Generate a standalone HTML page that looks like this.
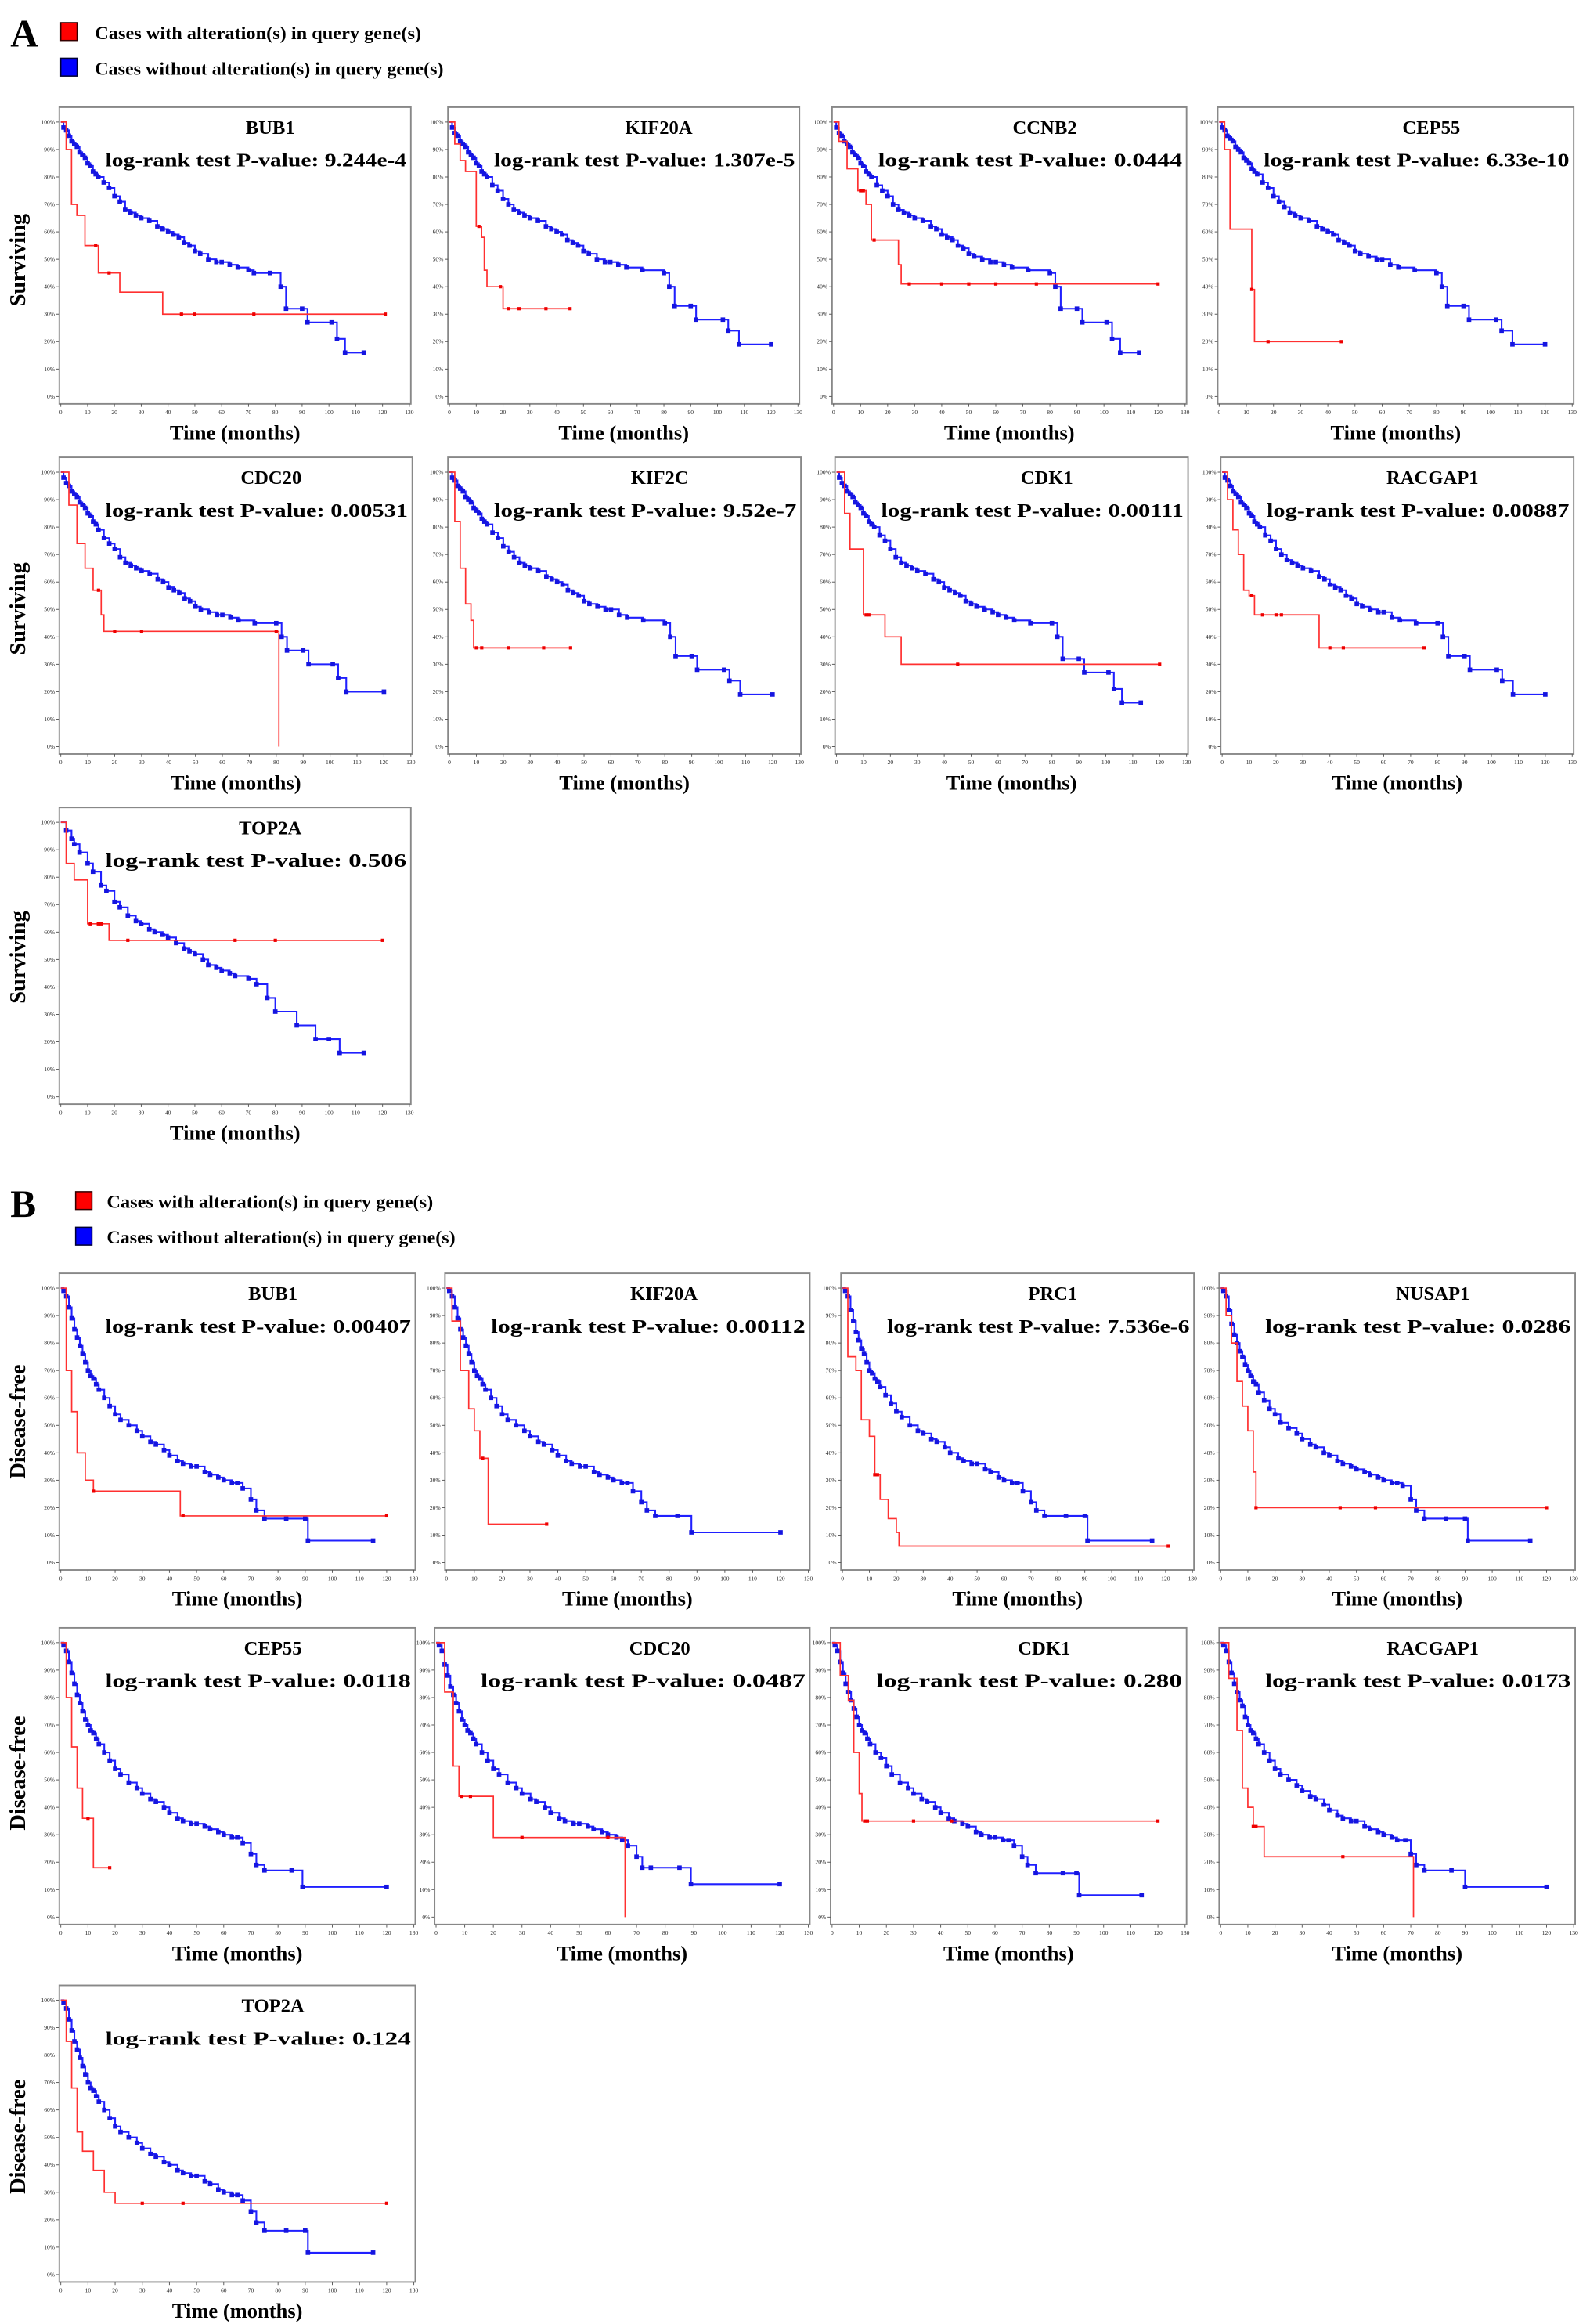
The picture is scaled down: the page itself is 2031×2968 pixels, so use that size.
<!DOCTYPE html>
<html><head><meta charset="utf-8">
<style>
html,body{margin:0;padding:0;background:#fff;}
svg{display:block;}
text{font-family:"Liberation Serif",serif;}
</style></head>
<body>
<svg id="fig" width="2031" height="2968" viewBox="0 0 1072 1566" xmlns="http://www.w3.org/2000/svg">
<g>
<text x="7" y="31" font-size="26" font-weight="bold">A</text>
<rect x="41" y="15" width="11" height="12" fill="#f00" stroke="#300" stroke-width="0.8"/>
<text x="64" y="26" font-size="12" font-weight="bold" textLength="220" lengthAdjust="spacingAndGlyphs">Cases with alteration(s) in query gene(s)</text>
<rect x="41" y="39" width="11" height="12" fill="#00f" stroke="#003" stroke-width="0.8"/>
<text x="64" y="50" font-size="12" font-weight="bold" textLength="235" lengthAdjust="spacingAndGlyphs">Cases without alteration(s) in query gene(s)</text>
</g>
<g>
<text x="7" y="820" font-size="26" font-weight="bold">B</text>
<rect x="51" y="803" width="11" height="12" fill="#f00" stroke="#300" stroke-width="0.8"/>
<text x="72" y="814" font-size="12" font-weight="bold" textLength="220" lengthAdjust="spacingAndGlyphs">Cases with alteration(s) in query gene(s)</text>
<rect x="51" y="827" width="11" height="12" fill="#00f" stroke="#003" stroke-width="0.8"/>
<text x="72" y="838" font-size="12" font-weight="bold" textLength="235" lengthAdjust="spacingAndGlyphs">Cases without alteration(s) in query gene(s)</text>
</g>
</svg>
<script>
// ---- data ----
const geneNames = ["BUB1","KIF20A","CCNB2","CEP55","CDC20","KIF2C","CDK1","RACGAP1","TOP2A",
                   "BUB1","KIF20A","PRC1","NUSAP1","CEP55","CDC20","CDK1","RACGAP1","TOP2A"];
const pValues = ["9.244e-4","1.307e-5","0.0444","6.33e-10","0.00531","9.52e-7","0.00111","0.00887","0.506",
                 "0.00407","0.00112","7.536e-6","0.0286","0.0118","0.0487","0.280","0.0173","0.124"];
const yTickLabels = ["0%","10%","20%","30%","40%","50%","60%","70%","80%","90%","100%"];
const xTickLabels = [0,10,20,30,40,50,60,70,80,90,100,110,120,130];

// red (altered) curves: [time, survival%]
const redA1 = [[0,100],[2,90],[4,70],[6,66],[9,55],[14,45],[22,38],[38,30],[121,30]];
const redA2 = [[0,100],[2,92],[4,86],[6,82],[10,62],[12,58],[13,46],[14,40],[20,32],[45,32]];
const redA3 = [[0,100],[2,93],[5,83],[9,75],[12,70],[14,57],[20,57],[24,48],[25,41],[120,41]];
const redA4 = [[0,100],[2,90],[4,61],[12,39],[13,20],[45,20]];
const redA5 = [[0,100],[3,88],[6,74],[9,65],[12,57],[15,48],[16,42],[80,42],[81,0]];
const redA6 = [[0,100],[2,82],[4,65],[6,52],[8,46],[9,36],[45,36]];
const redA7 = [[0,100],[3,85],[5,72],[10,48],[18,40],[24,30],[120,30]];
const redA8 = [[0,100],[2,90],[4,79],[6,70],[8,57],[10,55],[12,48],[24,48],[36,36],[75,36]];
const redA9 = [[0,100],[2,85],[5,79],[10,63],[16,63],[18,57],[120,57]];
const redB1 = [[0,100],[2,70],[4,55],[6,40],[9,30],[12,26],[43,26],[44,17],[120,17]];
const redB2 = [[0,100],[2,88],[5,70],[8,56],[10,48],[12,38],[15,14],[36,14]];
const redB3 = [[0,100],[2,75],[5,70],[7,52],[10,46],[12,32],[14,23],[17,16],[20,11],[21,6],[121,6]];
const redB4 = [[0,100],[2,90],[4,80],[6,66],[8,57],[10,48],[12,33],[13,20],[120,20]];
const redB5 = [[0,100],[2,80],[4,62],[6,47],[8,36],[12,18],[18,18]];
const redB6 = [[0,100],[3,82],[6,55],[8,44],[20,29],[65,29],[66,0]];
const redB7 = [[0,100],[3,88],[6,79],[8,60],[10,45],[11,35],[120,35]];
const redB8 = [[0,100],[3,87],[6,68],[8,47],[10,40],[12,33],[16,22],[70,22],[71,0]];
const redB9 = [[0,100],[2,85],[4,68],[6,52],[8,45],[12,38],[16,30],[20,26],[120,26]];
const redCensors = [[13,18,45,50,72,121],[11,19,22,26,36,45],[10,11,15,28,40,50,60,75,120],[12,18,45],[14,20,30,80],[10,12,22,35,45],[11,12,45,120],[11,15,20,22,40,45,75],[11,14,15,25,65,80,120],
                    [12,45,120],[13,36],[12,13,121],[13,44,57,120],[10,18],[9,12,30,60],[12,13,30,44,120],[12,13,45],[30,45,120]];

// blue (unaltered) curves
const blueA1 = [[0,100],[1,98],[2,97],[3,95],[4,93],[5,92],[6,91],[7,89],[8,88],[9,87],[10,85],[11,84],[12,82],[13,81],[14,80],[16,78],[18,76],[20,73],[22,71],[24,68],[26,67],[28,66],[30,65],[33,64],[36,62],[38,61],[40,60],[42,59],[44,58],[46,56],[48,55],[50,53],[52,52],[55,50],[58,49],[60,49],[63,48],[66,47],[70,46],[72,45],[78,45],[82,40],[84,32],[90,32],[92,27],[101,27],[103,21],[106,16],[113,16]];
const blueA2 = [[0,100],[1,98],[2,96],[3,95],[4,93],[5,92],[6,91],[7,89],[8,88],[9,87],[10,85],[11,84],[12,82],[13,81],[14,80],[16,77],[18,75],[20,72],[22,70],[24,68],[26,67],[28,66],[30,65],[33,64],[36,62],[38,61],[40,60],[42,59],[44,57],[46,56],[48,55],[50,53],[52,52],[55,50],[58,49],[60,49],[63,48],[66,47],[72,46],[80,45],[82,40],[84,33],[90,33],[92,28],[102,28],[104,24],[108,19],[120,19]];
const blueA3 = [[0,100],[1,98],[2,96],[3,95],[4,93],[5,92],[6,91],[7,89],[8,88],[9,87],[10,85],[11,84],[12,82],[13,81],[14,80],[16,77],[18,75],[20,73],[22,70],[24,68],[26,67],[28,66],[30,65],[33,64],[36,62],[38,61],[40,59],[42,58],[44,57],[46,55],[48,54],[50,52],[52,51],[55,50],[58,49],[60,49],[63,48],[66,47],[72,46],[80,45],[82,40],[84,32],[90,32],[92,27],[101,27],[103,21],[106,16],[113,16]];
const blueA4 = [[0,100],[1,98],[2,97],[3,95],[4,94],[5,93],[6,91],[7,90],[8,89],[9,87],[10,86],[11,85],[12,83],[13,82],[14,81],[16,78],[18,76],[20,73],[22,71],[24,69],[26,67],[28,66],[30,65],[33,64],[36,62],[38,61],[40,60],[42,59],[44,57],[46,56],[48,55],[50,53],[52,52],[55,51],[58,50],[60,50],[63,48],[66,47],[72,46],[80,45],[82,40],[84,33],[90,33],[92,28],[102,28],[104,24],[108,19],[120,19]];
const blueA5 = [[0,100],[1,98],[2,96],[3,95],[4,93],[5,92],[6,91],[7,89],[8,88],[9,87],[10,85],[11,84],[12,82],[13,81],[14,79],[16,76],[18,74],[20,72],[22,69],[24,67],[26,66],[28,65],[30,64],[33,63],[36,61],[38,60],[40,58],[42,57],[44,56],[46,54],[48,53],[50,51],[52,50],[55,49],[58,48],[60,48],[63,47],[66,46],[72,45],[80,45],[82,40],[84,35],[90,35],[92,30],[101,30],[103,25],[106,20],[120,20]];
const blueA6 = [[0,100],[1,98],[2,97],[3,95],[4,94],[5,93],[6,91],[7,90],[8,89],[9,87],[10,86],[11,85],[12,83],[13,82],[14,81],[16,78],[18,76],[20,73],[22,71],[24,69],[26,67],[28,66],[30,65],[33,64],[36,62],[38,61],[40,60],[42,59],[44,57],[46,56],[48,55],[50,53],[52,52],[55,51],[58,50],[60,50],[63,48],[66,47],[72,46],[80,45],[82,40],[84,33],[90,33],[92,28],[102,28],[104,24],[108,19],[120,19]];
const blueA7 = [[0,100],[1,98],[2,96],[3,95],[4,93],[5,92],[6,91],[7,89],[8,88],[9,87],[10,85],[11,84],[12,82],[13,81],[14,80],[16,77],[18,75],[20,72],[22,69],[24,67],[26,66],[28,65],[30,64],[33,63],[36,61],[38,60],[40,58],[42,57],[44,56],[46,55],[48,53],[50,52],[52,51],[55,50],[58,49],[60,48],[63,47],[66,46],[72,45],[80,45],[82,40],[84,32],[90,32],[92,27],[101,27],[103,21],[106,16],[113,16]];
const blueA8 = [[0,100],[1,98],[2,97],[3,95],[4,93],[5,92],[6,91],[7,89],[8,88],[9,87],[10,85],[11,84],[12,82],[13,81],[14,80],[16,77],[18,75],[20,72],[22,70],[24,68],[26,67],[28,66],[30,65],[33,64],[36,62],[38,61],[40,59],[42,58],[44,57],[46,55],[48,54],[50,52],[52,51],[55,50],[58,49],[60,49],[63,47],[66,46],[72,45],[80,45],[82,40],[84,33],[90,33],[92,28],[102,28],[104,24],[108,19],[120,19]];
const blueA9 = [[0,100],[2,97],[4,94],[5,92],[7,89],[10,85],[12,82],[15,77],[17,75],[20,71],[22,69],[25,66],[28,64],[30,63],[33,61],[35,60],[38,59],[40,58],[43,56],[46,54],[48,53],[50,52],[53,50],[55,48],[58,47],[60,46],[63,45],[65,44],[70,43],[73,41],[77,36],[80,31],[88,26],[95,21],[100,21],[104,16],[113,16]];
const blueB1 = [[0,100],[1,99],[2,97],[3,93],[4,89],[5,85],[6,82],[7,79],[8,76],[9,73],[10,70],[11,68],[12,67],[13,65],[14,63],[16,60],[18,57],[20,54],[22,52],[25,50],[28,48],[30,46],[33,44],[35,43],[38,41],[40,39],[43,37],[45,36],[48,35],[50,35],[53,33],[55,32],[58,31],[60,30],[63,29],[65,29],[67,27],[70,23],[72,19],[75,16],[83,16],[90,16],[91,8],[115,8]];
const blueB2 = [[0,100],[1,99],[2,97],[3,93],[4,89],[5,85],[6,82],[7,79],[8,76],[9,73],[10,70],[11,68],[12,67],[13,65],[14,63],[16,60],[18,57],[20,54],[22,52],[25,50],[28,48],[30,46],[33,44],[35,43],[38,41],[40,39],[43,37],[45,36],[48,35],[50,35],[53,33],[55,32],[58,31],[60,30],[63,29],[65,29],[67,26],[70,22],[72,19],[75,17],[83,17],[88,11],[120,11]];
const blueB3 = [[0,100],[1,99],[2,97],[3,92],[4,88],[5,84],[6,81],[7,78],[8,76],[9,73],[10,70],[11,69],[12,67],[13,66],[14,64],[16,61],[18,58],[20,55],[22,53],[25,50],[28,48],[30,47],[33,45],[35,44],[38,42],[40,40],[43,38],[45,37],[48,36],[50,36],[53,34],[55,33],[58,31],[60,30],[63,29],[65,29],[67,26],[70,22],[72,19],[75,17],[83,17],[90,17],[91,8],[115,8]];
const blueB4 = [[0,100],[1,99],[2,97],[3,92],[4,87],[5,83],[6,80],[7,77],[8,75],[9,72],[10,70],[11,68],[12,66],[13,65],[14,62],[16,59],[18,56],[20,54],[22,51],[25,49],[28,47],[30,45],[33,43],[35,42],[38,40],[40,39],[43,37],[45,36],[48,35],[50,34],[53,33],[55,32],[58,31],[60,30],[63,29],[65,29],[67,28],[70,23],[72,19],[75,16],[83,16],[90,16],[91,8],[114,8]];
const blueB5 = [[0,100],[1,99],[2,97],[3,93],[4,89],[5,85],[6,81],[7,78],[8,75],[9,72],[10,70],[11,68],[12,67],[13,65],[14,63],[16,60],[18,57],[20,54],[22,52],[25,49],[28,47],[30,45],[33,43],[35,42],[38,40],[40,38],[43,36],[45,35],[48,34],[50,34],[53,33],[55,32],[58,31],[60,30],[63,29],[65,29],[67,27],[70,23],[72,19],[75,17],[85,17],[89,11],[120,11]];
const blueB6 = [[0,100],[1,99],[2,97],[3,92],[4,88],[5,84],[6,81],[7,78],[8,75],[9,72],[10,70],[11,68],[12,67],[13,65],[14,63],[16,60],[18,57],[20,54],[22,52],[25,49],[28,47],[30,45],[33,43],[35,42],[38,40],[40,38],[43,36],[45,35],[48,34],[50,34],[53,33],[55,32],[58,31],[60,30],[63,29],[65,28],[67,26],[70,22],[72,18],[75,18],[85,18],[89,12],[120,12]];
const blueB7 = [[0,100],[1,99],[2,97],[3,93],[4,89],[5,85],[6,82],[7,79],[8,76],[9,73],[10,70],[11,68],[12,67],[13,65],[14,63],[16,60],[18,58],[20,55],[22,52],[25,49],[28,47],[30,45],[33,43],[35,42],[38,40],[40,38],[43,36],[45,35],[48,34],[50,33],[53,31],[55,30],[58,29],[60,29],[63,28],[65,28],[67,26],[70,22],[72,19],[75,16],[85,16],[90,16],[91,8],[114,8]];
const blueB8 = [[0,100],[1,99],[2,97],[3,93],[4,89],[5,85],[6,82],[7,79],[8,77],[9,73],[10,70],[11,68],[12,67],[13,65],[14,63],[16,60],[18,57],[20,54],[22,52],[25,50],[28,48],[30,46],[33,44],[35,43],[38,41],[40,39],[43,37],[45,36],[48,35],[50,35],[53,33],[55,32],[58,31],[60,30],[63,29],[65,28],[68,28],[70,23],[72,19],[75,17],[85,17],[90,11],[120,11]];
const blueB9 = [[0,100],[1,99],[2,97],[3,93],[4,89],[5,85],[6,82],[7,79],[8,76],[9,73],[10,70],[11,68],[12,67],[13,65],[14,63],[16,60],[18,57],[20,54],[22,52],[25,50],[28,48],[30,46],[33,44],[35,43],[38,41],[40,40],[43,38],[45,37],[48,36],[50,36],[53,34],[55,33],[58,31],[60,30],[63,29],[65,29],[67,27],[70,23],[72,19],[75,16],[83,16],[90,16],[91,8],[115,8]];

const redSeries = [redA1,redA2,redA3,redA4,redA5,redA6,redA7,redA8,redA9,redB1,redB2,redB3,redB4,redB5,redB6,redB7,redB8,redB9];
const blueSeries = [blueA1,blueA2,blueA3,blueA4,blueA5,blueA6,blueA7,blueA8,blueA9,blueB1,blueB2,blueB3,blueB4,blueB5,blueB6,blueB7,blueB8,blueB9];

// ---- layout (not data) ----
const boxes = [
 [40,72,277,272],[302,72,539,272],[561,72,800,272],[821,72,1061,272],
 [40,308,278,508],[302,308,540,508],[563,308,801,508],[823,308,1061,508],
 [40,544,277,744],
 [40,858,280,1058],[300,858,546,1058],[567,858,805,1058],[822,858,1062,1058],
 [40,1097,280,1297],[293,1097,546,1297],[560,1097,800,1297],[822,1097,1062,1297],
 [40,1338,280,1538]
];
const yLabelPos = [[17,175,"Surviving"],[17,410,"Surviving"],[17,645,"Surviving"],[17,958,"Disease-free"],[17,1195,"Disease-free"],[17,1440,"Disease-free"]];

const NS = "http://www.w3.org/2000/svg";
const svg = document.getElementById("fig");
function mk(tag, attrs, parent){
  const e = document.createElementNS(NS, tag);
  for (const k in attrs) e.setAttribute(k, attrs[k]);
  (parent||svg).appendChild(e);
  return e;
}
function stepPath(data, xs, ys){
  let d = "M"+xs(data[0][0])+","+ys(data[0][1]);
  for (let i=1;i<data.length;i++){
    d += "H"+xs(data[i][0])+"V"+ys(data[i][1]);
  }
  return d;
}
function survAt(data, t){
  let s = data[0][1];
  for (const p of data){ if (p[0] <= t) s = p[1]; }
  return s;
}

boxes.forEach((b, i) => {
  const [x0,y0,x1,y1] = b;
  const g = mk("g", {});
  
  
  const xs = t => x0 + 1 + t/130*(x1-x0-2);
  const ys = s => (y1-5) - s/100*((y1-5)-(y0+10));
  const box = mk("rect", {x:x0, y:y0, width:x1-x0, height:y1-y0, fill:"#fff", stroke:"#888", "stroke-width":1}, g);
  
  
  yTickLabels.forEach((lab, k) => {
    const y = ys(k*10);
    mk("line", {x1:x0-2, x2:x0, y1:y, y2:y, stroke:"#555", "stroke-width":0.5}, g);
    const t = mk("text", {x:x0-3, y:y+1.3, "font-size":4, "text-anchor":"end", fill:"#222", "font-family":"Liberation Sans, sans-serif"}, g);
    t.textContent = lab;
    
    
  });
  xTickLabels.forEach(v => {
    const x = xs(v);
    mk("line", {x1:x, x2:x, y1:y1, y2:y1+2, stroke:"#555", "stroke-width":0.5}, g);
    const t = mk("text", {x:x, y:y1+7, "font-size":4, "text-anchor":"middle", fill:"#222", "font-family":"Liberation Sans, sans-serif"}, g);
    t.textContent = v;
    
    
  });
  const bl = mk("path", {d:stepPath(blueSeries[i], xs, ys), fill:"none", stroke:"#2020ff", "stroke-width":1.1}, g);
  
  
  blueSeries[i].forEach((p, k) => {
    if (k === 0) return;
    const c = mk("rect", {x:xs(p[0])-1.5, y:ys(p[1])-1.5, width:3, height:3, fill:"#1515e0"}, g);
    
    
  });
  const rl = mk("path", {d:stepPath(redSeries[i], xs, ys), fill:"none", stroke:"#ff3030", "stroke-width":0.9}, g);
  
  
  redCensors[i].forEach(t => {
    const c = mk("rect", {x:xs(t)-1.1, y:ys(survAt(redSeries[i], t))-1.1, width:2.2, height:2.2, fill:"#e00"}, g);
    
    
  });
  const cx = x0 + (x1-x0)*0.6;
  const tt = mk("text", {x:cx, y:y0+18, "font-size":13, "font-weight":"bold", "text-anchor":"middle"}, g);
  tt.textContent = geneNames[i];
  
  
  const pv = mk("text", {x:x0+31, y:y0+40, "font-size":13, "font-weight":"bold", textLength:(x1-x0)-34, lengthAdjust:"spacingAndGlyphs"}, g);
  pv.textContent = "log-rank test P-value: " + pValues[i];
  
  
  const xl = mk("text", {x:(x0+x1)/2, y:y1+24, "font-size":14, "font-weight":"bold", "text-anchor":"middle"}, g);
  xl.textContent = "Time (months)";
  
  
});

yLabelPos.forEach(p => {
  const t = mk("text", {x:p[0], y:p[1], "font-size":15, "font-weight":"bold", "text-anchor":"middle", transform:"rotate(-90 "+p[0]+" "+p[1]+")"});
  t.textContent = p[2];
  
  
});
</script>
</body></html>
